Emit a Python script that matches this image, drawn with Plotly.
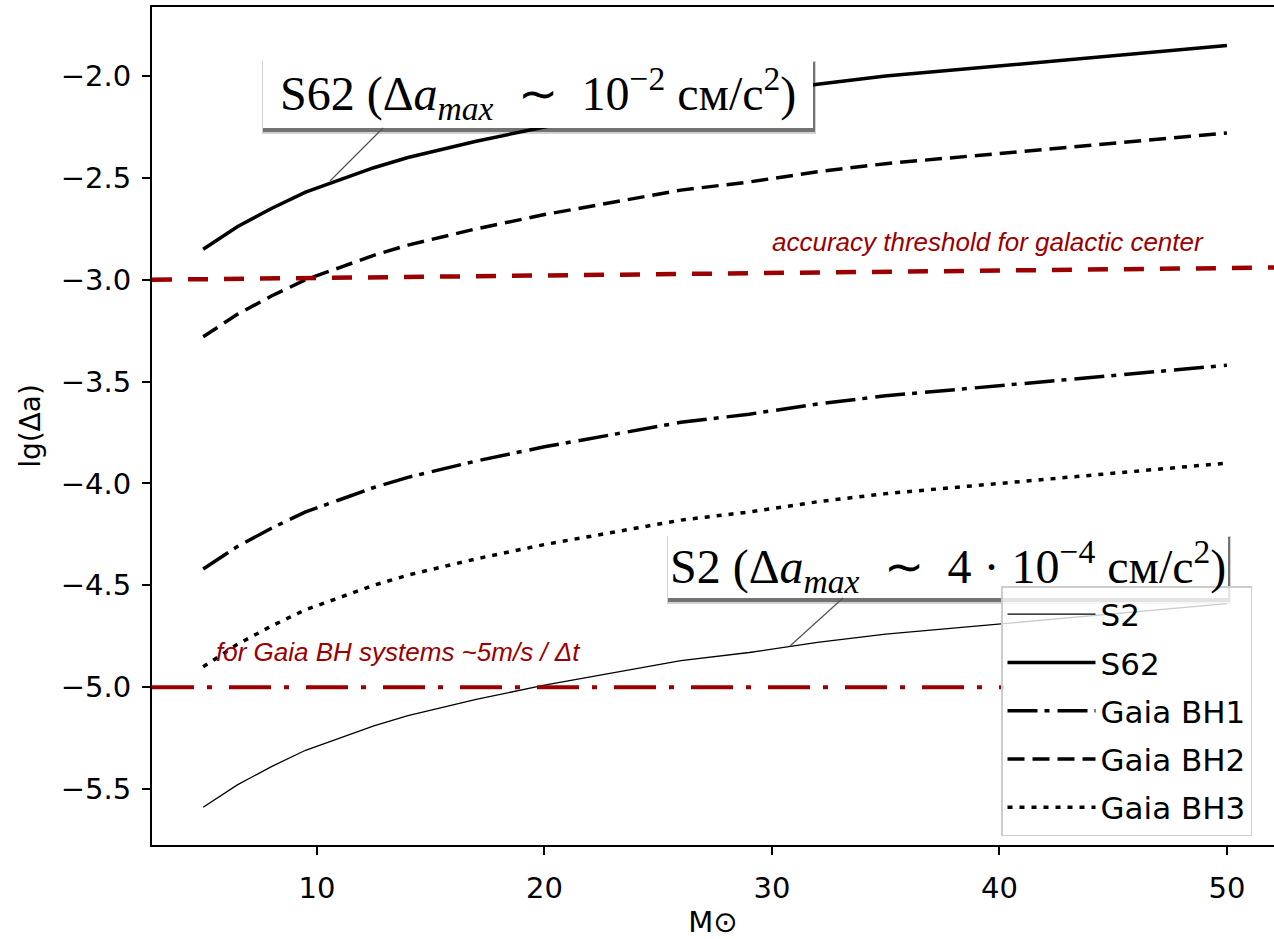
import plotly.graph_objects as go

# ---------------- data ----------------
mass = [5, 6.5, 8, 9.5, 11, 12.5, 14, 17, 20, 23, 26, 29, 32, 35, 38, 41, 44, 47, 50]

lg_s2 = [-5.59, -5.48, -5.39, -5.31, -5.25, -5.19, -5.14, -5.06, -4.99, -4.93,
         -4.87, -4.83, -4.78, -4.74, -4.71, -4.68, -4.65, -4.62, -4.59]
lg_s62 = [-2.85, -2.74, -2.65, -2.57, -2.51, -2.45, -2.40, -2.32, -2.25, -2.19,
          -2.13, -2.09, -2.04, -2.00, -1.97, -1.94, -1.91, -1.88, -1.85]
lg_bh1 = [-4.42, -4.31, -4.22, -4.14, -4.08, -4.02, -3.97, -3.89, -3.82, -3.76,
          -3.70, -3.66, -3.61, -3.57, -3.54, -3.51, -3.48, -3.45, -3.42]
lg_bh2 = [-3.28, -3.17, -3.08, -3.00, -2.94, -2.88, -2.83, -2.75, -2.68, -2.62,
          -2.56, -2.52, -2.47, -2.43, -2.40, -2.37, -2.34, -2.31, -2.28]
lg_bh3 = [-4.90, -4.79, -4.70, -4.62, -4.56, -4.50, -4.45, -4.37, -4.30, -4.24,
          -4.18, -4.14, -4.09, -4.05, -4.02, -3.99, -3.96, -3.93, -3.90]

gc_thr_x = [2.75, 52.1]
gc_thr_y = [-3.00, -2.94]
gaia_thr_x = [2.75, 40.2]
gaia_thr_y = [-5.0, -5.0]

series_names = ["S2", "S62", "Gaia BH1", "Gaia BH2", "Gaia BH3"]
x_ticks = [10, 20, 30, 40, 50]
y_ticks = [-5.5, -5.0, -4.5, -4.0, -3.5, -3.0, -2.5, -2.0]

# ---------------- layout geometry ----------------
W, H = 1274, 939
L, R, T, B = 152, 0, 7, 94
X_RANGE = [2.75, 52.07]
Y_RANGE = [-5.775, -1.661]
PW, PH = W - L - R, H - T - B


def px2x(px):
    return X_RANGE[0] + (px - L) / PW * (X_RANGE[1] - X_RANGE[0])


def py2y(py):
    return Y_RANGE[1] - (py - T) / PH * (Y_RANGE[1] - Y_RANGE[0])


def px2paper(px):
    return (px - L) / PW


def py2paper(py):
    return (H - B - py) / PH


RED = "#9b0000"

fig = go.Figure()

styles = [
    dict(width=1.3, dash="solid"),
    dict(width=3.5, dash="solid"),
    dict(width=3.5, dash="30px,7px,5px,8px"),
    dict(width=3.5, dash="17px,8px"),
    dict(width=3.5, dash="5px,7px"),
]
for i, (name, ys) in enumerate(zip(series_names, [lg_s2, lg_s62, lg_bh1, lg_bh2, lg_bh3])):
    fig.add_trace(go.Scatter(
        x=mass, y=ys, mode="lines", name=name, legendgroup=name,
        line=dict(color="black", **styles[i]),
    ))

fig.add_trace(go.Scatter(x=gc_thr_x, y=gc_thr_y, mode="lines", showlegend=False,
                         line=dict(color=RED, width=4.5, dash="20px,16px")))
fig.add_trace(go.Scatter(x=gaia_thr_x, y=gaia_thr_y, mode="lines", showlegend=False,
                         line=dict(color=RED, width=4, dash="42px,13px,5px,17px")))

shapes = []
annotations = []
NB = "\u00a0"
EN = "\u2002"


def label_box(x0p, x1p, y0p, y1p, text, ptr_from, ptr_to):
    # soft drop shadow
    shapes.append(dict(type="rect", xref="paper", yref="paper", layer="above",
                       x0=px2paper(x0p - 1), x1=px2paper(x1p + 3),
                       y0=py2paper(y1p + 6), y1=py2paper(y0p + 3),
                       fillcolor="rgba(0,0,0,0.18)", line=dict(width=0)))
    shapes.append(dict(type="rect", xref="paper", yref="paper", layer="above",
                       x0=px2paper(x0p), x1=px2paper(x1p + 2),
                       y0=py2paper(y1p + 4), y1=py2paper(y0p + 4),
                       fillcolor="rgba(0,0,0,0.45)", line=dict(width=0)))
    shapes.append(dict(type="rect", xref="paper", yref="paper", layer="above",
                       x0=px2paper(x0p), x1=px2paper(x1p),
                       y0=py2paper(y1p), y1=py2paper(y0p),
                       fillcolor="white", line=dict(width=0)))
    shapes.append(dict(type="line", xref="x", yref="y", layer="above",
                       x0=px2x(ptr_from[0]), y0=py2y(ptr_from[1]),
                       x1=px2x(ptr_to[0]), y1=py2y(ptr_to[1]),
                       line=dict(color="#555555", width=1.3)))
    annotations.append(dict(x=px2paper((x0p + x1p) / 2), y=py2paper((y0p + y1p) / 2 + 1),
                            xref="paper", yref="paper", text=text, showarrow=False,
                            font=dict(family="Liberation Serif", size=48, color="black"),
                            xanchor="center", yanchor="middle"))


label_box(263, 813, 58, 128,
          f"S62{NB}(Δ<i>a<sub>max</sub></i>{EN}∼{EN}10<sup>−2</sup>{NB}см/c<sup>2</sup>)",
          (383, 128), (330, 181))
label_box(668, 1228, 533, 598,
          f"S2{NB}(Δ<i>a<sub>max</sub></i>{EN}∼{EN}4{NB}·{NB}10<sup>−4</sup>{NB}см/c<sup>2</sup>)",
          (843, 598), (790, 646))

annotations.append(dict(x=px2x(988), y=py2y(242), xref="x", yref="y",
                        text="<i>accuracy threshold for galactic center</i>", showarrow=False,
                        font=dict(family="Liberation Sans", size=26, color=RED)))
annotations.append(dict(x=px2x(398), y=py2y(652), xref="x", yref="y",
                        text="<i>for Gaia BH systems ~5m/s / Δt</i>", showarrow=False,
                        font=dict(family="Liberation Sans", size=26, color=RED)))

fig.update_layout(
    width=W, height=H,
    margin=dict(l=L, r=R, t=T, b=B),
    paper_bgcolor="white", plot_bgcolor="white",
    shapes=shapes, annotations=annotations,
    showlegend=True,
    legend=dict(x=(1001 - L) / PW, y=(H - B - 586) / PH, xanchor="left", yanchor="top",
                bgcolor="rgba(255,255,255,0.8)", bordercolor="#cccccc", borderwidth=1.5,
                font=dict(family="DejaVu Sans", size=31, color="black"),
                tracegroupgap=5, itemwidth=88),
    xaxis=dict(range=X_RANGE, tickvals=x_ticks, showgrid=False, zeroline=False,
               showline=True, linecolor="black", linewidth=2, mirror=True,
               ticks="outside", ticklen=8, tickwidth=2, tickcolor="black",
               tickfont=dict(family="DejaVu Sans", size=29, color="black"),
               ticklabelstandoff=8,
               title=dict(text="M⊙", font=dict(family="DejaVu Sans", size=29, color="black"),
                          standoff=12)),
    yaxis=dict(range=Y_RANGE, tickvals=y_ticks, tickformat=".1f", showgrid=False, zeroline=False,
               showline=True, linecolor="black", linewidth=2, mirror=False,
               ticks="outside", ticklen=8, tickwidth=2, tickcolor="black",
               tickfont=dict(family="DejaVu Sans", size=29, color="black"),
               ticklabelstandoff=5,
               title=dict(text="lg(Δa)", font=dict(family="DejaVu Sans", size=28, color="black"),
                          standoff=12)),
)

fig.write_html("out.html")
